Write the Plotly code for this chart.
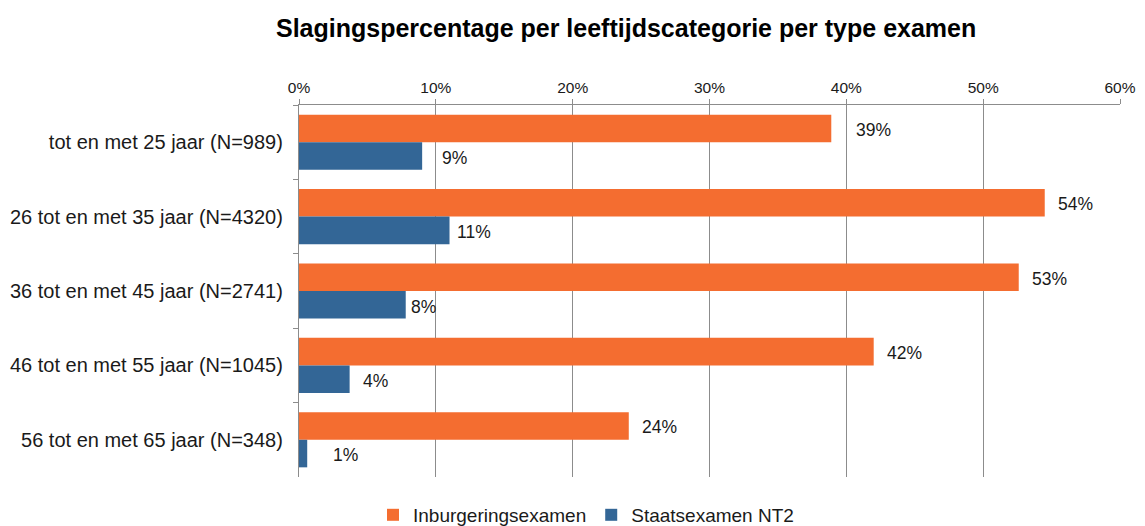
import plotly.graph_objects as go

categories = [
    "tot en met 25 jaar (N=989)",
    "26 tot en met 35 jaar (N=4320)",
    "36 tot en met 45 jaar (N=2741)",
    "46 tot en met 55 jaar (N=1045)",
    "56 tot en met 65 jaar (N=348)",
]
inburgering = [38.9, 54.5, 52.6, 42.0, 24.1]
staatsexamen = [9.0, 11.0, 7.8, 3.7, 0.6]
inburgering_labels = ["39%", "54%", "53%", "42%", "24%"]
staatsexamen_labels = ["9%", "11%", "8%", "4%", "1%"]
tick_vals = [0, 10, 20, 30, 40, 50, 60]
tick_text = ["0%", "10%", "20%", "30%", "40%", "50%", "60%"]

# label offsets (px) from bar end, as placed in the original
inb_shift = [23, 11, 11, 11, 11]
sta_shift = [18, 5, 3, 11, 24]

ORANGE = "#F46D30"
BLUE = "#336696"
FONT = "Liberation Sans, Arial, sans-serif"

fig = go.Figure()
fig.add_trace(go.Bar(y=categories, x=inburgering, orientation="h",
                     name="Inburgeringsexamen", marker=dict(color=ORANGE, line=dict(width=0))))
fig.add_trace(go.Bar(y=categories, x=staatsexamen, orientation="h",
                     name="Staatsexamen NT2", marker=dict(color=BLUE, line=dict(width=0))))

annotations = []
for c, v, t, s in zip(categories, inburgering, inburgering_labels, inb_shift):
    annotations.append(dict(x=v, y=c, xref="x", yref="y", text=t, showarrow=False,
                            xanchor="left", yanchor="middle", xshift=s, yshift=12.5,
                            font=dict(size=17.5, color="#1a1a1a", family=FONT)))
for c, v, t, s in zip(categories, staatsexamen, staatsexamen_labels, sta_shift):
    annotations.append(dict(x=v, y=c, xref="x", yref="y", text=t, showarrow=False,
                            xanchor="left", yanchor="middle", xshift=s, yshift=-15.5,
                            font=dict(size=17.5, color="#1a1a1a", family=FONT)))

annotations.append(dict(text="<b>Slagingspercentage per leeftijdscategorie per type examen</b>",
                        xref="paper", yref="paper", x=(625.5 - 299) / 820, y=1 + (105 - 28) / 372.5,
                        xanchor="center", yanchor="middle", showarrow=False,
                        font=dict(size=25, color="#000000", family=FONT)))

fig.update_layout(
    width=1145, height=526,
    margin=dict(l=299, r=25, t=105, b=48.5, autoexpand=False),
    paper_bgcolor="white", plot_bgcolor="white",
    barmode="group", bargap=0.26, bargroupgap=0,
    font=dict(family=FONT, color="#1a1a1a"),
    showlegend=True,
    legend=dict(orientation="h", xref="container", yref="paper",
                x=586 / 1145, y=-(515.5 - 477.5) / 372.5, xanchor="center", yanchor="middle",
                font=dict(size=19, family=FONT, color="#1a1a1a"),
                itemwidth=30, traceorder="normal", bgcolor="rgba(0,0,0,0)"),
    annotations=annotations,
)
fig.update_xaxes(side="top", range=[0, 60], tickvals=tick_vals, ticktext=tick_text,
                 showgrid=True, gridcolor="#8c8c8c", gridwidth=1,
                 showline=True, linecolor="#8c8c8c", linewidth=1,
                 ticks="outside", ticklen=5, tickcolor="#8c8c8c",
                 tickfont=dict(size=15.5, family=FONT, color="#1a1a1a"),
                 zeroline=False, fixedrange=True, automargin=False)
fig.update_yaxes(autorange="reversed", showgrid=False,
                 showline=True, linecolor="#8c8c8c", linewidth=1,
                 ticks="outside", ticklen=5, tickcolor="#8c8c8c", tickson="boundaries",
                 tickfont=dict(size=20, family=FONT, color="#1a1a1a"),
                 ticksuffix="  ", zeroline=False, fixedrange=True, automargin=False)

fig.write_html("out.html", config={"displayModeBar": False},
               post_script="document.body.style.margin='0';document.body.style.padding='0';")
